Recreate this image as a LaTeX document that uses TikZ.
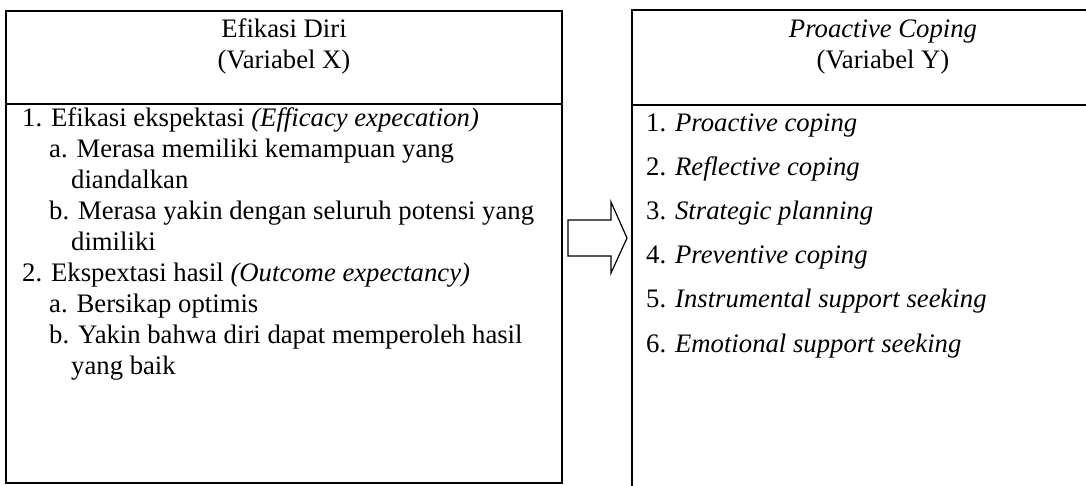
\documentclass[tikz,border=0pt]{standalone}
\usepackage{fontspec}
\setmainfont{Liberation Serif}
\begin{document}
\begin{tikzpicture}[x=1pt,y=-1pt]
\tikzset{
  boxline/.style={draw=black, line width=1.3pt},
  txt/.style={anchor=base west, inner sep=0pt, font=\fontsize{26.7}{31}\selectfont},
  head/.style={anchor=base, inner sep=0pt, font=\fontsize{26.7}{31}\selectfont},
}
\useasboundingbox (0,0) rectangle (1086,485);
\clip (0,0) rectangle (1086,485);
\fill[white] (0,0) rectangle (1086,485);
% left box
\draw[boxline] (6,11) rectangle (562,483);
\draw[boxline] (6,104) -- (562,104);
% right box (cut off at right and bottom)
\draw[boxline] (1100,10) -- (632,10) -- (632,500);
\draw[boxline] (632,105) -- (1100,105);
% block arrow
\draw[line width=1.2pt, line join=miter] (568,220) -- (611,220) -- (611,202) -- (627,238) -- (611,273) -- (611,256) -- (568,256) -- cycle;
% left header
\node[head] (lh1) at (284,37) {Efikasi Diri};
\node[head] (lh2) at (284,68) {(Variabel X)};
% left list
\node[txt] (l1) at (22,126) {1. Efikasi ekspektasi \textit{(Efficacy expecation)}};
\node[txt] (l2) at (49,157) {a. Merasa memiliki kemampuan yang};
\node[txt] (l3) at (71,188) {diandalkan};
\node[txt] (l4) at (49,219) {b. Merasa yakin dengan seluruh potensi yang};
\node[txt] (l5) at (71,250) {dimiliki};
\node[txt] (l6) at (22,281) {2. Ekspextasi hasil \textit{(Outcome expectancy)}};
\node[txt] (l7) at (49,312) {a. Bersikap optimis};
\node[txt] (l8) at (49,343) {b. Yakin bahwa diri dapat memperoleh hasil};
\node[txt] (l9) at (71,374) {yang baik};
% right header
\node[head] (rh1) at (883,37) {\textit{Proactive Coping}};
\node[head] (rh2) at (883,68) {(Variabel Y)};
% right list
\node[txt] (r1) at (646,131) {1. \textit{Proactive coping}};
\node[txt] (r2) at (646,175.2) {2. \textit{Reflective coping}};
\node[txt] (r3) at (646,219.4) {3. \textit{Strategic planning}};
\node[txt] (r4) at (646,263.6) {4. \textit{Preventive coping}};
\node[txt] (r5) at (646,307.8) {5. \textit{Instrumental support seeking}};
\node[txt] (r6) at (646,352) {6. \textit{Emotional support seeking}};
\end{tikzpicture}
\end{document}
